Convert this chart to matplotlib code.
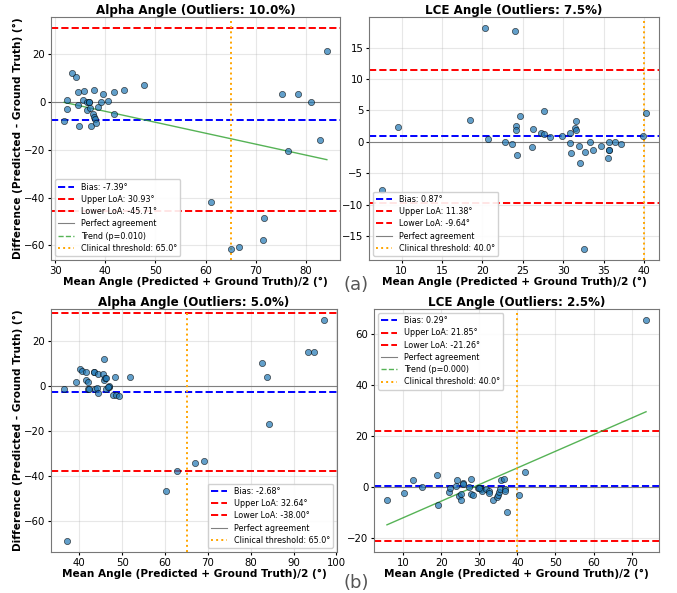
import numpy as np
import matplotlib
matplotlib.use("Agg")
import matplotlib.pyplot as plt

# (a) Alpha angle: mean vs difference
alpha_a_mean = [31.8, 32.3, 32.4, 33.3, 34.2, 34.6, 34.6, 34.8, 35.8, 35.6,
                36.3, 36.4, 36.8, 37.0, 37.1, 37.8, 37.6, 37.8, 37.9, 38.2,
                38.5, 39.2, 39.5, 40.5, 41.7, 41.8, 43.7, 47.8, 61.0, 65.0,
                66.7, 71.4, 71.7, 75.2, 76.4, 78.4, 81.0, 82.8, 84.2, 36.7]
alpha_a_diff = [-8.0, 1.0, -2.9, 12.2, 10.3, 4.2, -1.4, -10.2, 4.5, 1.0,
                0.0, -3.2, 0.1, -2.5, -9.9, 5.2, -4.9, -6.3, -7.1, -8.8,
                -2.1, 0.0, 3.2, 0.6, 4.2, -4.9, 5.0, 7.0, -41.8, -61.5,
                -60.6, -57.8, -48.5, 3.5, -20.4, 3.5, 0.1, -15.9, 21.3, 0.0]

# (a) LCE angle
lce_a_mean = [7.6, 9.5, 18.5, 20.3, 20.7, 22.8, 23.6, 24.0, 24.1, 24.2,
              24.3, 24.7, 26.1, 26.3, 27.3, 27.6, 27.6, 28.3, 29.8, 30.8,
              30.8, 30.9, 31.4, 31.6, 31.6, 31.9, 32.1, 32.7, 32.6, 33.3,
              33.7, 34.7, 35.5, 35.7, 35.7, 36.4, 37.1, 39.8, 40.2, 35.6]
lce_a_diff = [-7.7, 2.4, 3.55, 18.1, 0.5, 0.05, -0.26, 17.7, 2.5, 1.9,
              -2.0, 4.2, -0.85, 2.1, 1.4, 4.9, 1.3, 0.85, 1.0, 1.4,
              -0.2, -1.7, 2.2, 3.4, 1.9, -0.64, -3.4, -1.6, -17.0, 0.0,
              -1.2, -0.64, -2.5, 0.0, -1.2, 0.05, -0.3, 0.95, 4.6, -1.2]

# (b) Alpha angle
alpha_b_mean = [36.4, 37.1, 39.1, 40.1, 40.6, 41.5, 41.6, 41.9, 42.1, 42.2,
                43.3, 43.5, 43.7, 44.0, 44.4, 44.3, 45.5, 45.7, 45.8, 45.9,
                46.3, 46.3, 46.8, 47.0, 47.8, 48.3, 48.6, 49.3, 51.9, 60.1,
                62.7, 67.1, 69.1, 82.6, 83.8, 84.2, 93.3, 94.8, 97.1, 46.6]
alpha_b_diff = [-1.5, -69.0, 1.9, 7.6, 6.8, 2.4, 6.25, 1.9, -1.3, -1.6,
                6.25, 6.1, -1.6, -0.9, -3.3, 5.4, 5.4, 11.9, 2.8, 3.6,
                3.4, -1.2, -0.6, 0.0, -3.9, 4.0, -4.0, -4.6, 4.0, -46.7,
                -37.8, -34.2, -33.2, 10.3, 4.0, -17.1, 14.9, 15.0, 29.3, -0.3]

# (b) LCE angle
lce_b_mean = [5.7, 10.1, 12.5, 15.0, 18.8, 19.1, 22.1, 22.4, 23.8, 24.0,
              24.6, 25.2, 25.2, 25.6, 25.8, 27.3, 27.9, 27.9, 28.3, 29.5,
              30.1, 30.3, 30.6, 31.8, 32.4, 32.4, 33.7, 34.5, 34.9, 35.2,
              35.3, 35.6, 36.5, 36.6, 36.8, 37.2, 40.5, 42.1, 73.8, 30.0]
lce_b_diff = [-5.0, -2.6, 2.7, 0.0, 4.5, -7.1, -2.0, -0.65, 0.3, 2.6,
              -3.8, -2.9, -5.0, 1.3, 1.0, 0.0, 3.1, -2.7, -3.4, -0.5,
              -0.65, -1.0, -1.8, -0.8, -1.6, -2.6, -5.0, -3.9, -3.1, -2.1,
              -0.8, 2.6, 3.0, -0.8, -1.8, -9.9, -3.4, 5.8, 65.4, -0.4]

titles = ["Alpha Angle (Outliers: 10.0%)", "LCE Angle (Outliers: 7.5%)",
          "Alpha Angle (Outliers: 5.0%)", "LCE Angle (Outliers: 2.5%)"]
bias = [-7.39, 0.87, -2.68, 0.29]
upper_loa = [30.93, 11.38, 32.64, 21.85]
lower_loa = [-45.71, -9.64, -38.00, -21.26]
thresholds = [65.0, 40.0, 65.0, 40.0]
trend_p = [0.010, None, None, 0.000]
legend_loc = ["lower left", "lower left", "lower right", "upper left"]

means = [alpha_a_mean, lce_a_mean, alpha_b_mean, lce_b_mean]
diffs = [alpha_a_diff, lce_a_diff, alpha_b_diff, lce_b_diff]

fig = plt.figure(figsize=(6.77, 5.93), dpi=100)
W, H = 677, 593
# axes boxes in pixels: left, top, right, bottom
boxes = [(51, 17, 340, 260), (369, 17, 659, 260),
         (51, 309, 337, 552), (374, 309, 659, 552)]

for i in range(4):
    l, t, r, b = boxes[i]
    ax = fig.add_axes([l / W, (H - b) / H, (r - l) / W, (b - t) / H])
    x = np.array(means[i])
    d = np.array(diffs[i])

    ax.scatter(x, d, s=20, color="#1f77b4", alpha=0.7,
               edgecolors="black", linewidths=0.5, zorder=3)
    ax.axhline(bias[i], color="blue", linestyle="--", linewidth=1.4,
               label=f"Bias: {bias[i]:.2f}°")
    ax.axhline(upper_loa[i], color="red", linestyle="--", linewidth=1.4,
               label=f"Upper LoA: {upper_loa[i]:.2f}°")
    ax.axhline(lower_loa[i], color="red", linestyle="--", linewidth=1.4,
               label=f"Lower LoA: {lower_loa[i]:.2f}°")
    ax.axhline(0, color="gray", linestyle="-", linewidth=0.8,
               label="Perfect agreement")
    if trend_p[i] is not None:
        z = np.polyfit(x, d, 1)
        xs = np.sort(x)
        ax.plot(xs, np.polyval(z, xs), "-", color="#2ca02c", linewidth=1.0,
                alpha=0.8)
        ax.plot([], [], "--", color="#2ca02c", linewidth=1.0, alpha=0.8,
                label=f"Trend (p={trend_p[i]:.3f})")
    ax.axvline(thresholds[i], color="orange", linestyle=":", linewidth=1.4,
               label=f"Clinical threshold: {thresholds[i]:.1f}°")

    ax.set_title(titles[i], fontsize=8.6, fontweight="bold", pad=2)
    ax.set_xlabel("Mean Angle (Predicted + Ground Truth)/2 (°)",
                  fontsize=7.6, fontweight="bold", labelpad=1)
    if i % 2 == 0:
        ax.set_ylabel("Difference (Predicted - Ground Truth) (°)",
                      fontsize=7.6, fontweight="bold", labelpad=1)
    ax.tick_params(labelsize=7.3, length=2.5, pad=1.5)
    ax.grid(True, alpha=0.3)
    for sp in ax.spines.values():
        sp.set_color("#777777")
    ax.legend(loc=legend_loc[i], fontsize=5.8, labelspacing=0.4,
              framealpha=0.9)

fig.text(356 / W, 1 - 285 / H, "(a)", fontsize=13, color="#555555",
         ha="center", va="center")
fig.text(356 / W, 1 - 583 / H, "(b)", fontsize=13, color="#555555",
         ha="center", va="center")

fig.savefig("out.png", dpi=100)
